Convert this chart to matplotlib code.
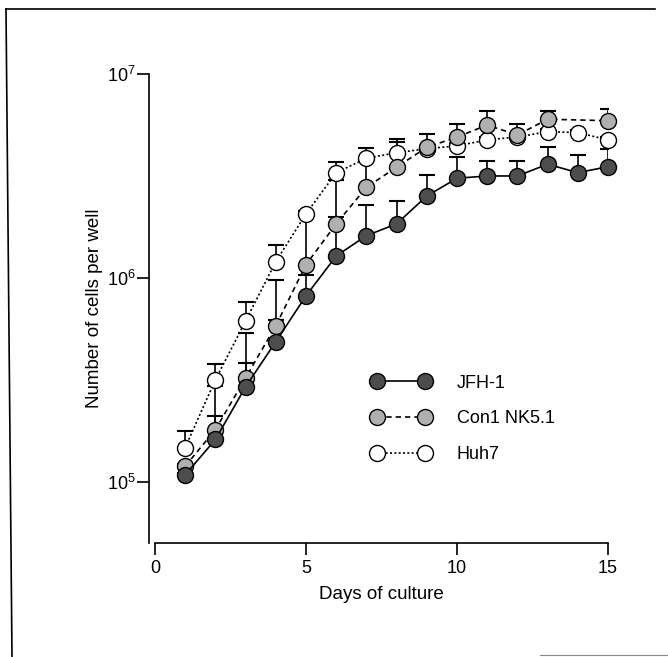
import numpy as np
import matplotlib
matplotlib.use('Agg')
import matplotlib.pyplot as plt
from matplotlib.lines import Line2D
from matplotlib.ticker import FixedLocator, NullLocator

plt.rcParams['font.family'] = ['Liberation Sans', 'DejaVu Sans']
plt.rcParams['mathtext.fontset'] = 'custom'
plt.rcParams['mathtext.rm'] = 'Liberation Sans'
plt.rcParams['mathtext.it'] = 'Liberation Sans:italic'
plt.rcParams['mathtext.bf'] = 'Liberation Sans:bold'

# ---------------- data ----------------
days = [1, 2, 3, 4, 5, 6, 7, 8, 9, 10, 11, 12, 13, 14, 15]

jfh1 = [1.08e5, 1.61e5, 2.92e5, 4.86e5, 8.16e5, 1.28e6, 1.61e6, 1.84e6,
        2.52e6, 3.08e6, 3.16e6, 3.16e6, 3.61e6, 3.28e6, 3.51e6]
jfh1_upper = [1.10e5, 2.11e5, 3.83e5, 6.22e5, 1.03e6, 1.99e6, 2.28e6, 2.39e6,
              3.20e6, 3.91e6, 3.76e6, 3.76e6, 4.37e6, 4.01e6, 4.27e6]

con1_days = [1, 2, 3, 4, 5, 6, 7, 8, 9, 10, 11, 12, 13, 15]
con1 = [1.19e5, 1.80e5, 3.23e5, 5.82e5, 1.16e6, 1.84e6, 2.78e6, 3.49e6,
        4.37e6, 4.90e6, 5.62e6, 5.02e6, 6.00e6, 5.90e6]
con1_upper = [1.22e5, 2.96e5, 5.37e5, 9.78e5, 2.06e6, 3.02e6, 3.79e6, 4.66e6,
              5.08e6, 5.69e6, 6.61e6, 5.69e6, 6.60e6, 6.71e6]

huh7 = [1.47e5, 3.16e5, 6.15e5, 1.20e6, 2.06e6, 3.28e6, 3.86e6, 4.11e6,
        4.30e6, 4.44e6, 4.75e6, 4.91e6, 5.21e6, 5.16e6, 4.75e6]
huh7_upper = [1.78e5, 3.79e5, 7.63e5, 1.45e6, 2.12e6, 3.72e6, 4.32e6, 4.80e6,
              4.43e6, 4.57e6, 4.89e6, 5.06e6, 5.37e6, 5.31e6, 4.89e6]

labels = ['JFH-1', 'Con1 NK5.1', 'Huh7']
x_ticks = [0, 5, 10, 15]
y_ticks = [1e5, 1e6, 1e7]
y_ticklabels = [r'$\mathregular{10^{5}}$', r'$\mathregular{10^{6}}$', r'$\mathregular{10^{7}}$']

# ---------------- figure ----------------
W, H = 668, 657
fig = plt.figure(figsize=(W / 100, H / 100), dpi=100)
ax = fig.add_axes([155 / W, (H - 543) / H, (608 - 155) / W, (543 - 74) / H])
ax.set_yscale('log')
ax.set_xlim(0, 15)
ax.set_ylim(5e4, 1e7)

FS = 13
ms = 11.5

series = [
    (days, jfh1, jfh1_upper, dict(linestyle='-', mfc='#4d4d4d', zorder=5)),
    (con1_days, con1, con1_upper, dict(linestyle=(0, (3.2, 2.4)), mfc='#b0b0b0', zorder=4)),
    (days, huh7, huh7_upper, dict(linestyle=(0, (1.2, 1.4)), mfc='white', zorder=3)),
]

for xs, ys, ups, st in series:
    ys_a = np.array(ys)
    err = [np.zeros_like(ys_a), np.array(ups) - ys_a]
    ax.errorbar(xs, ys, yerr=err, fmt='none', ecolor='black', elinewidth=1.2,
                capsize=5.5, capthick=1.5, zorder=2)

handles = []
for (xs, ys, ups, st), lab in zip(series, labels):
    h, = ax.plot(xs, ys, color='black', lw=1.2, linestyle=st['linestyle'],
                 marker='o', ms=ms, mfc=st['mfc'], mec='black', mew=1.0,
                 zorder=st['zorder'], clip_on=False, label=lab)
    handles.append(h)

# axes styling
for s in ['top', 'right']:
    ax.spines[s].set_visible(False)
ax.spines['left'].set_position(('outward', 4))
ax.spines['left'].set_linewidth(1.2)
ax.spines['bottom'].set_linewidth(1.2)

ax.xaxis.set_major_locator(FixedLocator(x_ticks))
ax.set_xticklabels([str(t) for t in x_ticks])
ax.yaxis.set_major_locator(FixedLocator(y_ticks))
ax.yaxis.set_minor_locator(NullLocator())
ax.set_yticklabels(y_ticklabels)
ax.tick_params(axis='both', direction='out', length=8.5, width=1.2, labelsize=FS)
ax.tick_params(axis='y', pad=1.5)
ax.tick_params(axis='x', pad=4)

ax.set_xlabel('Days of culture', fontsize=13.5, labelpad=6)
ax.set_ylabel('Number of cells per well', fontsize=13.5, labelpad=3)

leg = ax.legend(handles=handles, loc='upper left',
                bbox_to_anchor=(371.6 / W, 1 - 374.5 / H), bbox_transform=fig.transFigure,
                frameon=False, fontsize=FS, numpoints=2, handlelength=3.26,
                handletextpad=1.45, labelspacing=1.05, borderpad=0, borderaxespad=0)

# scanned page border
fig.add_artist(Line2D([6 / W, 655 / W], [1 - 9 / H, 1 - 9 / H], transform=fig.transFigure,
                      color='black', lw=1.2))
fig.add_artist(Line2D([6 / W, 12 / W], [1 - 9 / H, 0], transform=fig.transFigure,
                      color='black', lw=1.2))
fig.add_artist(Line2D([540 / W, 1.0], [1 - 655 / H, 1 - 655 / H], transform=fig.transFigure,
                      color='#888888', lw=0.8))

fig.savefig('out.png', dpi=100)
